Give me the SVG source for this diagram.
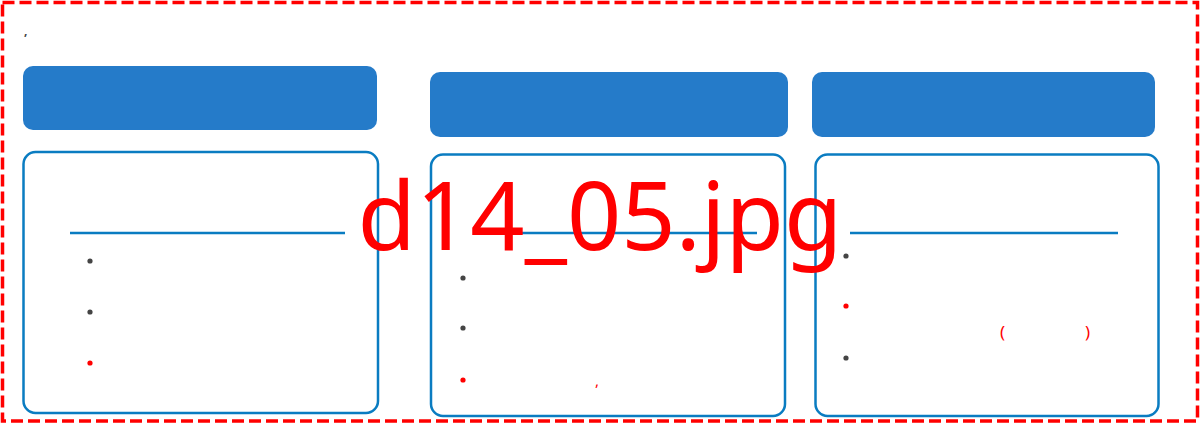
<svg xmlns="http://www.w3.org/2000/svg" width="1200" height="424" viewBox="0 0 1200 424">
<style>
.frame{fill:none;stroke:#ff0000;stroke-width:3.5;stroke-dasharray:12 5}
.hdr{fill:#257bc9}
.box{fill:#ffffff;stroke:#0a7cc1;stroke-width:2.5}
.rule{stroke:#0a7cc1;stroke-width:2.5}
.dot{fill:#444444}
.rdot{fill:#ff0000}
.rtxt{font-family:"Noto Sans","DejaVu Sans",sans-serif;fill:#ff0000}
.wm{font-family:"Noto Sans","Open Sans",sans-serif;font-size:95px;fill:#ff0000;text-anchor:middle}
</style>
<rect width="1200" height="424" fill="#ffffff"/>
<rect class="frame" x="2.5" y="2.5" width="1195" height="418.5"/>
<text x="24" y="35" font-family="Noto Sans, sans-serif" font-size="12" font-weight="bold" fill="#444444">,</text>
<g id="col1">
<rect class="hdr" x="23" y="66" width="354" height="64" rx="10"/>
<rect class="box" x="23.5" y="152" width="354.5" height="261" rx="12"/>
<line class="rule" x1="70" y1="233" x2="345" y2="233"/>
<circle class="dot" cx="90" cy="261" r="2.6"/>
<circle class="dot" cx="90" cy="312" r="2.6"/>
<circle class="rdot" cx="90" cy="363" r="2.6"/>
</g>
<g id="col2">
<rect class="hdr" x="430" y="72" width="358" height="65" rx="10"/>
<rect class="box" x="431" y="154.5" width="354" height="261.5" rx="12"/>
<line class="rule" x1="522" y1="233" x2="757" y2="233"/>
<circle class="dot" cx="463" cy="278" r="2.6"/>
<circle class="dot" cx="463" cy="328" r="2.6"/>
<circle class="rdot" cx="463" cy="380" r="2.6"/>
<text class="rtxt" x="595" y="386" font-size="15">,</text>
</g>
<g id="col3">
<rect class="hdr" x="812" y="72" width="343" height="65" rx="10"/>
<rect class="box" x="815.5" y="154.5" width="343" height="261.5" rx="12"/>
<line class="rule" x1="850" y1="233" x2="1118" y2="233"/>
<circle class="dot" cx="846" cy="256" r="2.6"/>
<circle class="rdot" cx="846" cy="306" r="2.6"/>
<circle class="dot" cx="846" cy="358" r="2.6"/>
<text class="rtxt" x="1000" y="338" font-size="17">(</text>
<text class="rtxt" x="1085" y="338" font-size="17">)</text>
</g>
<g id="connectors"></g>
<text class="wm" x="600" y="250">d14_05.jpg</text>
</svg>
